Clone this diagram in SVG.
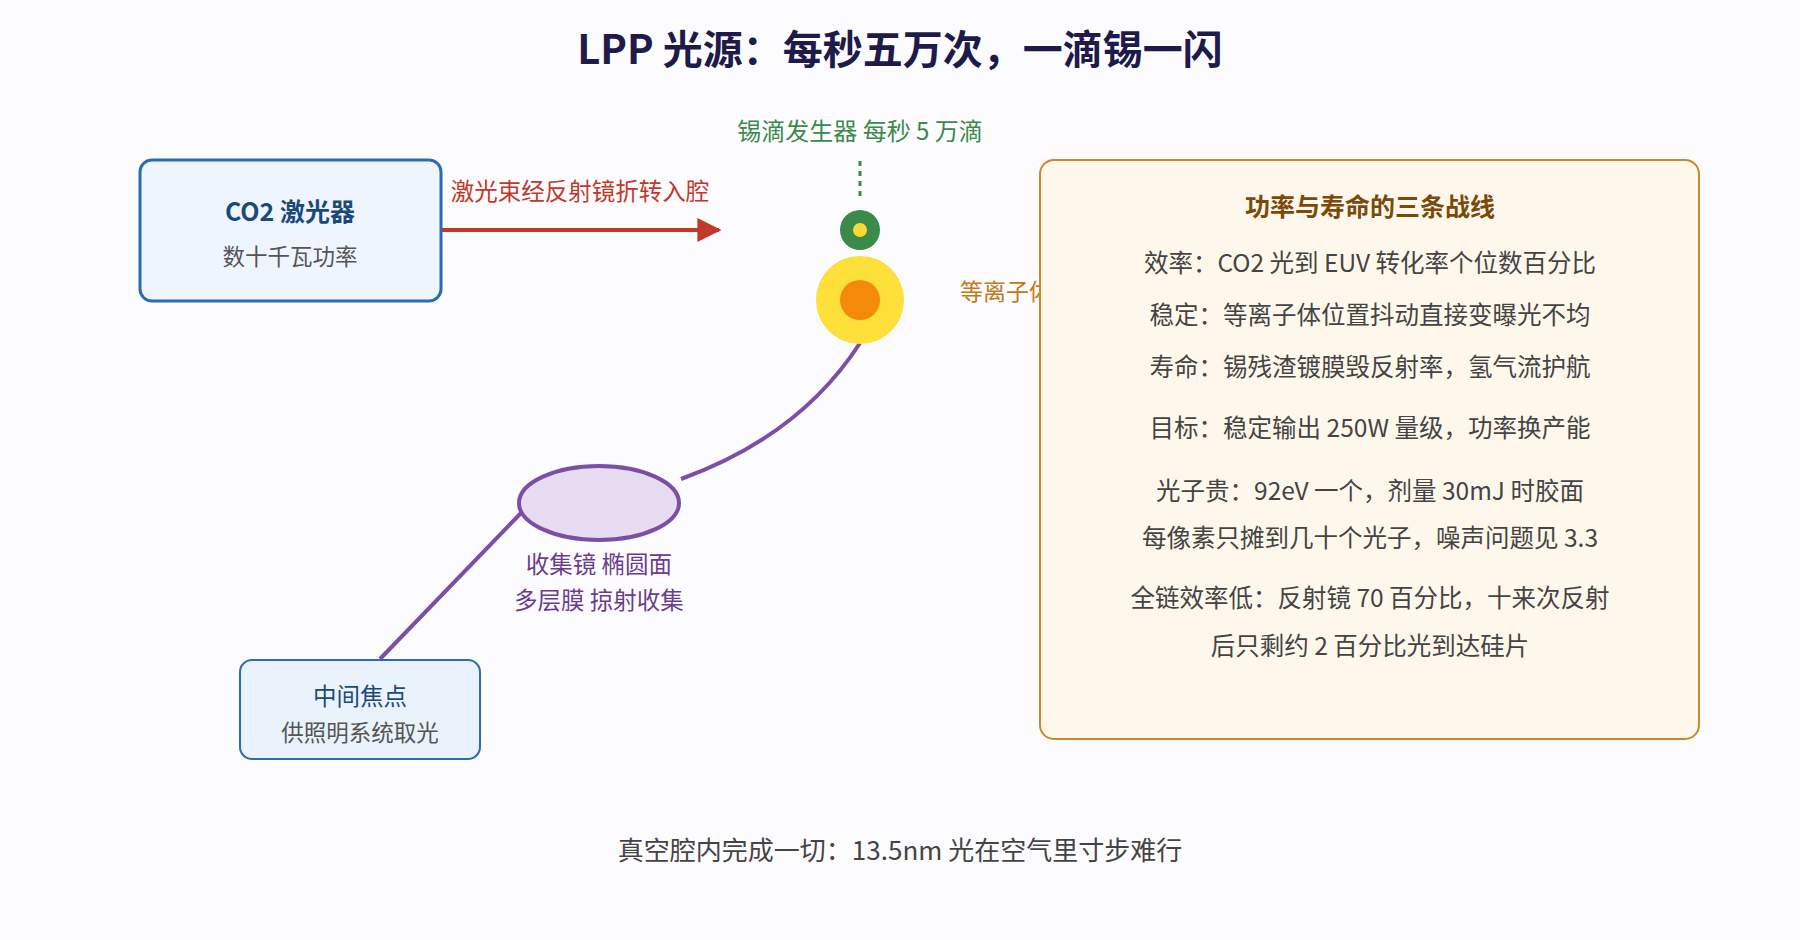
<svg xmlns="http://www.w3.org/2000/svg" width="1800" height="940" viewBox="0 0 1800 940">
<style>
text{font-family:"Noto Sans CJK SC","Noto Sans",sans-serif;text-anchor:middle}
.p{font-size:24.5px;fill:#444}
.s{font-size:22.5px;fill:#555}
</style>
<defs>
<marker id="ar" viewBox="0 0 10 10" refX="9" refY="5" markerWidth="6" markerHeight="6" orient="auto"><path d="M0,0L10,5L0,10z" fill="#c0392b"/></marker>
</defs>
<rect width="1800" height="940" fill="#fcfcfe"/>
<text x="900" y="64" font-size="40" font-weight="bold" fill="#1e1a4a">LPP 光源：每秒五万次，一滴锡一闪</text>
<g id="connectors" fill="none">
<line x1="441" y1="230" x2="719" y2="230" stroke="#c0392b" stroke-width="4" marker-end="url(#ar)"/>
<line x1="860" y1="161" x2="860" y2="201" stroke="#3a8a4a" stroke-width="3" stroke-dasharray="5,5"/>
<path d="M860,343Q800,436 681,479" stroke="#7b4fa6" stroke-width="4"/>
<line x1="521" y1="513" x2="380" y2="659" stroke="#7b4fa6" stroke-width="4"/>
</g>
<text x="580" y="200" font-size="23.5" fill="#c0392b">激光束经反射镜折转入腔</text>
<g id="laser">
<rect x="140" y="160" width="301" height="141" rx="12" fill="#eef5fe" stroke="#2b6cb0" stroke-width="3"/>
<text x="290" y="221" font-size="25" font-weight="bold" fill="#1a4a7a">CO2 激光器</text>
<text x="290" y="265" class="s">数十千瓦功率</text>
</g>
<g id="dropper">
<text x="860" y="140" font-size="24" fill="#3a8a4a">锡滴发生器 每秒 5 万滴</text>
<circle cx="860" cy="230" r="20" fill="#3a8a4a"/>
<circle cx="860" cy="230" r="7" fill="#fcd835"/>
</g>
<g id="plasma">
<circle cx="860" cy="300" r="44" fill="#fde03a"/>
<circle cx="860" cy="300" r="20" fill="#f58a0a"/>
<text x="960" y="300" font-size="23" fill="#c07a1a" style="text-anchor:start">等离子体 EUV</text>
</g>
<g id="collector">
<ellipse cx="599" cy="503" rx="80" ry="37" fill="#e8dcf2" stroke="#7b4fa6" stroke-width="4"/>
<text x="599" y="573" font-size="23.5" fill="#6a3d8f">收集镜 椭圆面</text>
<text x="599" y="609" font-size="23.5" fill="#6a3d8f">多层膜 掠射收集</text>
</g>
<g id="focus">
<rect x="240" y="660" width="240" height="99" rx="12" fill="#eaf2fc" stroke="#2b6cb0" stroke-width="2"/>
<text x="360" y="705" font-size="23.5" fill="#1a4a7a">中间焦点</text>
<text x="360" y="741" class="s">供照明系统取光</text>
</g>
<g id="panel">
<rect x="1040" y="160" width="659" height="579" rx="14" fill="#fef8ec" stroke="#c88a2a" stroke-width="2"/>
<text x="1370" y="216" font-size="25" font-weight="bold" fill="#7a4a0a">功率与寿命的三条战线</text>
<text x="1370" y="272" class="p">效率：CO2 光到 EUV 转化率个位数百分比</text>
<text x="1370" y="324" class="p">稳定：等离子体位置抖动直接变曝光不均</text>
<text x="1370" y="376" class="p">寿命：锡残渣镀膜毁反射率，氢气流护航</text>
<text x="1370" y="437" class="p">目标：稳定输出 250W 量级，功率换产能</text>
<text x="1370" y="500" class="p">光子贵：92eV 一个，剂量 30mJ 时胶面</text>
<text x="1370" y="547" class="p">每像素只摊到几十个光子，噪声问题见 3.3</text>
<text x="1370" y="607" class="p">全链效率低：反射镜 70 百分比，十来次反射</text>
<text x="1370" y="655" class="p">后只剩约 2 百分比光到达硅片</text>
</g>
<text x="900" y="860" font-size="26" fill="#444">真空腔内完成一切：13.5nm 光在空气里寸步难行</text>
</svg>
